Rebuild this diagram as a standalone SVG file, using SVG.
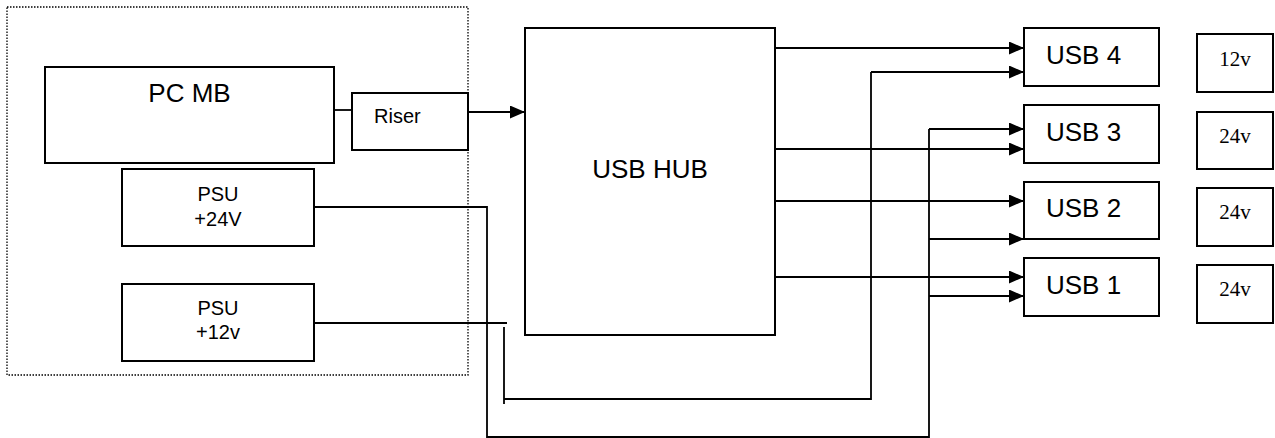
<svg xmlns="http://www.w3.org/2000/svg" width="1275" height="438" viewBox="0 0 1275 438">
<style>
.box{fill:#fff;stroke:#000;stroke-width:2}
.big{font-family:"Liberation Sans",Arial,sans-serif;font-size:26px;fill:#000}
.mid{font-family:"Liberation Sans",Arial,sans-serif;font-size:20px;fill:#000}
.ser{font-family:"Liberation Serif","Times New Roman",serif;font-size:21px;fill:#000}
.ln{fill:none;stroke:#000;stroke-width:1.8}
.arr{marker-end:url(#ah)}
</style>
<defs>
<marker id="ah" markerUnits="userSpaceOnUse" markerWidth="15" markerHeight="13" refX="15" refY="6.5" orient="auto">
<path d="M0,0 L15,6.5 L0,13 z" fill="#000"/>
</marker>
</defs>
<rect x="0" y="0" width="1275" height="438" fill="#fff"/>
<g id="enclosure">
<rect x="7" y="7" width="461" height="368" fill="none" stroke="#000" stroke-width="1.3" stroke-dasharray="1.5 1.5"/>
</g>
<g id="connectors">
<line class="ln" x1="334" y1="110" x2="352" y2="110"/>
<line class="ln arr" x1="468" y1="112" x2="525" y2="112"/>
<line class="ln arr" x1="775" y1="48" x2="1024" y2="48"/>
<line class="ln arr" x1="775" y1="149" x2="1024" y2="149"/>
<line class="ln arr" x1="775" y1="201" x2="1024" y2="201"/>
<line class="ln arr" x1="775" y1="277" x2="1024" y2="277"/>
<polyline class="ln" points="315,207 487,207 487,437 929,437 929,129"/>
<line class="ln arr" x1="929" y1="129" x2="1024" y2="129"/>
<line class="ln arr" x1="929" y1="239" x2="1024" y2="239"/>
<line class="ln arr" x1="929" y1="296" x2="1024" y2="296"/>
<line class="ln" x1="315" y1="323" x2="507" y2="323"/>
<polyline class="ln" points="504,327 504,404"/>
<polyline class="ln" points="504,399 871,399 871,72"/>
<line class="ln arr" x1="871" y1="72" x2="1024" y2="72"/>
</g>
<g id="pcmb">
<rect class="box" x="45" y="67" width="289" height="96"/>
<text class="big" x="189.5" y="102" text-anchor="middle">PC MB</text>
</g>
<g id="riser">
<rect class="box" x="352" y="93" width="116" height="57"/>
<text class="mid" x="374" y="123">Riser</text>
</g>
<g id="psu24">
<rect class="box" x="122" y="169" width="192" height="77"/>
<text class="mid" x="218" y="201" text-anchor="middle">PSU</text>
<text class="mid" x="218" y="226" text-anchor="middle">+24V</text>
</g>
<g id="psu12">
<rect class="box" x="122" y="284" width="192" height="77"/>
<text class="mid" x="218" y="315" text-anchor="middle">PSU</text>
<text class="mid" x="218" y="339" text-anchor="middle">+12v</text>
</g>
<g id="hub">
<rect class="box" x="525" y="28" width="250" height="307"/>
<text class="big" x="650" y="178" text-anchor="middle">USB HUB</text>
</g>
<g id="usb4">
<rect class="box" x="1024" y="28" width="135" height="58"/>
<text class="big" x="1046" y="64">USB 4</text>
</g>
<g id="usb3">
<rect class="box" x="1024" y="105" width="135" height="58"/>
<text class="big" x="1046" y="141">USB 3</text>
</g>
<g id="usb2">
<rect class="box" x="1024" y="182" width="135" height="57"/>
<text class="big" x="1046" y="217">USB 2</text>
</g>
<g id="usb1">
<rect class="box" x="1024" y="258" width="135" height="58"/>
<text class="big" x="1046" y="294">USB 1</text>
</g>
<g id="v4">
<rect class="box" x="1197" y="34" width="76" height="58"/>
<text class="ser" x="1235" y="66" text-anchor="middle">12v</text>
</g>
<g id="v3">
<rect class="box" x="1197" y="112" width="76" height="57"/>
<text class="ser" x="1235" y="143" text-anchor="middle">24v</text>
</g>
<g id="v2">
<rect class="box" x="1197" y="188" width="76" height="58"/>
<text class="ser" x="1235" y="219" text-anchor="middle">24v</text>
</g>
<g id="v1">
<rect class="box" x="1197" y="265" width="76" height="58"/>
<text class="ser" x="1235" y="296" text-anchor="middle">24v</text>
</g>
</svg>
